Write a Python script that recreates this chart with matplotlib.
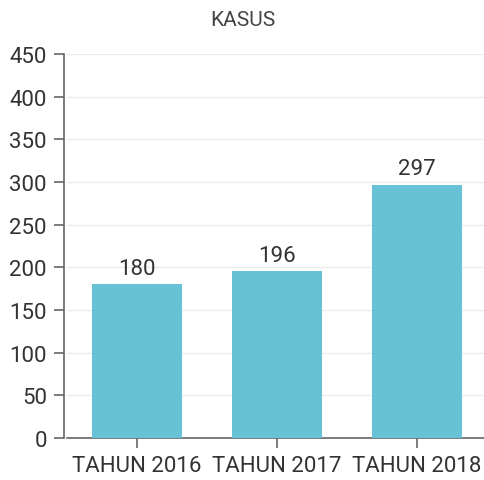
import matplotlib
matplotlib.use("Agg")
import matplotlib.pyplot as plt

categories = ["TAHUN 2016", "TAHUN 2017", "TAHUN 2018"]
values = [180, 196, 297]
yticks = [0, 50, 100, 150, 200, 250, 300, 350, 400, 450]
title = "KASUS"

plt.rcParams['font.family'] = ['Roboto', 'DejaVu Sans']

fig = plt.figure(figsize=(4.85, 4.81), dpi=100)
ax = fig.add_axes([67/485, 42/481, 420/485, 384/481])

x = list(range(len(categories)))
ax.bar(x, values, width=0.643, color="#67c2d5", zorder=3)
for xi, v in zip(x, values):
    ax.text(xi, v + 6, str(v), ha="center", va="bottom", fontsize=16, color="#333333")

ax.set_xlim(-0.5, 2.5)
ax.set_ylim(0, 450)
ax.set_yticks(yticks)
ax.set_xticks(x)
ax.set_xticklabels(categories)
ax.tick_params(axis="both", labelsize=16, colors="#666666", labelcolor="#333333", length=7.5, width=1.2, pad=5)
ax.grid(axis="y", color="#ececec", linewidth=1, zorder=0)
for s in ["top", "right"]:
    ax.spines[s].set_visible(False)
for s in ["left", "bottom"]:
    ax.spines[s].set_color("#666666")
    ax.spines[s].set_linewidth(1.2)
ax.spines["left"].set_position(("outward", 2))

fig.text(0.5, 1 - 20/481, title, ha="center", va="center", fontsize=15, color="#444444")

fig.savefig("out.png", dpi=100)
